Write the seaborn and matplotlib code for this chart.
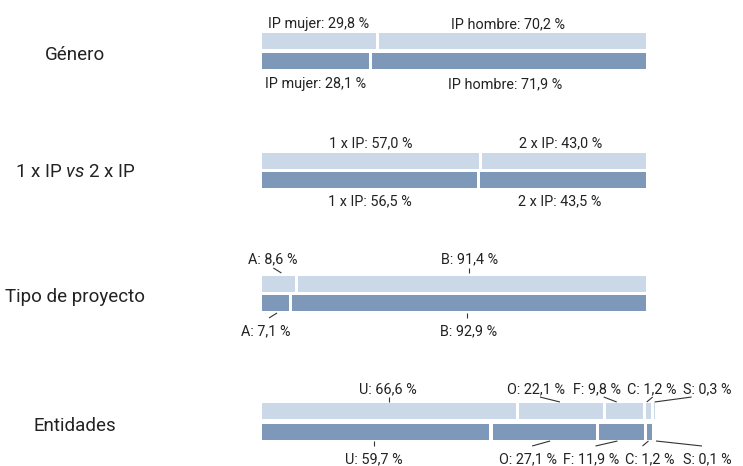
import numpy as np
import matplotlib
matplotlib.use("Agg")
import matplotlib.pyplot as plt
import seaborn as sns

# ---------------- data ----------------
group_labels = ["Género", "1 x IP $\\mathit{vs}$ 2 x IP", "Tipo de proyecto", "Entidades"]

genero_names = ["IP mujer", "IP hombre"]
genero_top = [29.8, 70.2]
genero_bottom = [28.1, 71.9]

ip_names = ["1 x IP", "2 x IP"]
ip_top = [57.0, 43.0]
ip_bottom = [56.5, 43.5]

tipo_names = ["A", "B"]
tipo_top = [8.6, 91.4]
tipo_bottom = [7.1, 92.9]

ent_names = ["U", "O", "F", "C", "S"]
ent_top = [66.6, 22.1, 9.8, 1.2, 0.3]
ent_bottom = [59.7, 27.1, 11.9, 1.2, 0.1]

# ---------------- style / layout ----------------
LIGHT = "#cbd8e8"
DARK = "#7d98b8"
TXT = "#222222"
FONT = "Roboto"

sns.set_theme(style="white")
plt.rcParams["font.family"] = [FONT, "DejaVu Sans"]
plt.rcParams["mathtext.fontset"] = "custom"
plt.rcParams["mathtext.rm"] = FONT
plt.rcParams["mathtext.it"] = FONT + ":italic"

PX = 3.81      # pixels per percent
X0 = 262       # pixel where 0 % starts
GAP = 0.8      # white gap between segments (percent units)
BAR_H = 16

layout = [
    dict(names=genero_names, top=genero_top, bot=genero_bottom,
         y=(41, 61), base=(28, 88), cat_base=60, lead=None,
         tdx=[0, -4], bdx=[0, -4]),
    dict(names=ip_names, top=ip_top, bot=ip_bottom,
         y=(161, 180), base=(147, 205), cat_base=177, lead=None,
         tdx=[0, -4], bdx=[0, -3]),
    dict(names=tipo_names, top=tipo_top, bot=tipo_bottom,
         y=(284, 303), base=(263, 335), cat_base=302,
         lead=((268, 273), (318, 313)),
         tdx=[-6, -2], tsdx=[1, -1], tedx=[3, -3],
         bdx=[-9.5, -1], bsdx=[3, -1], bedx=[1.5, -2]),
    dict(names=ent_names, top=ent_top, bot=ent_bottom,
         y=(411, 431.5), base=(393, 463), cat_base=431,
         lead=((397, 402), (446, 441)),
         tdx=[-1, -25, -28, 3, 53], tsdx=[1, 4, 7, 1, -16], tedx=[0, -1, -8, -2, 0],
         bdx=[-2, -16, -30, 0, 52], bsdx=[0, 4, 4, -7, -5], bedx=[-2, 6, -4, -1, 1]),
]

fig = plt.figure(figsize=(7.43, 4.66), dpi=100)
ax = fig.add_axes([0, 0, 1, 1])
ax.set_xlim(-X0 / PX, (743 - X0) / PX)
ax.set_ylim(466, 0)
ax.axis("off")


def fit_size(sample, target_px):
    t = fig.text(0, 0, sample, fontsize=10)
    fig.canvas.draw()
    w = t.get_window_extent().width
    t.remove()
    return 10 * target_px / w


CAT_FS = fit_size("Tipo de proyecto", 140)
LAB_FS = fit_size("IP mujer: 29,8 %", 101)


def fmt(name, v):
    return f"{name}: {v:.1f} %".replace(".", ",")


for g, lab in zip(layout, group_labels):
    ax.text(-X0 / PX + 75 / PX, g["cat_base"], lab, ha="center", va="baseline",
            fontsize=CAT_FS, color=TXT)
    for k, (vals, color) in enumerate([(g["top"], LIGHT), (g["bot"], DARK)]):
        vals = np.array(vals, dtype=float)
        lefts = np.concatenate([[0], np.cumsum(vals)[:-1]]) + np.arange(len(vals)) * GAP
        ax.barh(g["y"][k], vals, left=lefts, height=BAR_H, color=color,
                linewidth=0)
        centers = lefts + vals / 2
        ldx = g["tdx"] if k == 0 else g["bdx"]
        for i, (name, v) in enumerate(zip(g["names"], vals)):
            lx = centers[i] + ldx[i] / PX
            ax.text(lx, g["base"][k], fmt(name, v), ha="center", va="baseline",
                    fontsize=LAB_FS, color=TXT)
            if g["lead"] is not None:
                sdx = (g["tsdx"] if k == 0 else g["bsdx"])[i]
                edx = (g["tedx"] if k == 0 else g["bedx"])[i]
                y0, y1 = g["lead"][k]
                ax.plot([lx + sdx / PX, centers[i] + edx / PX], [y0, y1],
                        color="#333333", lw=0.8, solid_capstyle="butt")

fig.savefig("out.png", dpi=100)
